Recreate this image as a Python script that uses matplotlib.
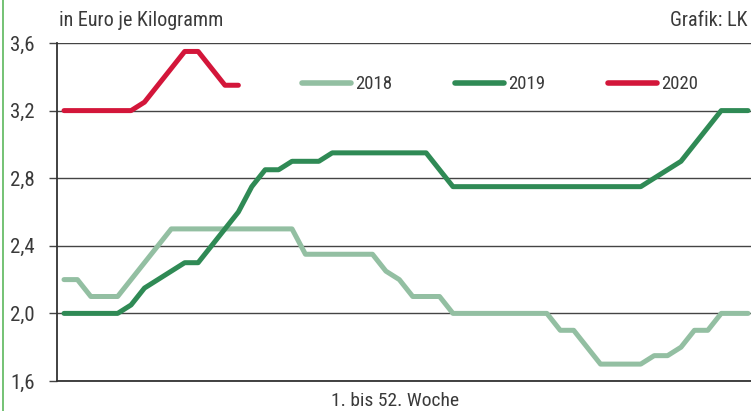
import numpy as np
import matplotlib
matplotlib.use("Agg")
from matplotlib import pyplot as plt
from matplotlib.lines import Line2D

plt.rcParams['font.family'] = ['Roboto Condensed', 'Liberation Sans Narrow', 'Roboto', 'DejaVu Sans']

# weekly prices in Euro per kg
weeks = np.arange(1, 53)
p2018 = [2.2, 2.2, 2.1, 2.1, 2.1, 2.2, 2.3, 2.4, 2.5, 2.5,
         2.5, 2.5, 2.5, 2.5, 2.5, 2.5, 2.5, 2.5, 2.35, 2.35,
         2.35, 2.35, 2.35, 2.35, 2.25, 2.2, 2.1, 2.1, 2.1, 2.0,
         2.0, 2.0, 2.0, 2.0, 2.0, 2.0, 2.0, 1.9, 1.9, 1.8,
         1.7, 1.7, 1.7, 1.7, 1.75, 1.75, 1.8, 1.9, 1.9, 2.0,
         2.0, 2.0]
p2019 = [2.0, 2.0, 2.0, 2.0, 2.0, 2.05, 2.15, 2.2, 2.25, 2.3,
         2.3, 2.4, 2.5, 2.6, 2.75, 2.85, 2.85, 2.9, 2.9, 2.9,
         2.95, 2.95, 2.95, 2.95, 2.95, 2.95, 2.95, 2.95, 2.85, 2.75,
         2.75, 2.75, 2.75, 2.75, 2.75, 2.75, 2.75, 2.75, 2.75, 2.75,
         2.75, 2.75, 2.75, 2.75, 2.8, 2.85, 2.9, 3.0, 3.1, 3.2,
         3.2, 3.2]
p2020 = [3.2, 3.2, 3.2, 3.2, 3.2, 3.2, 3.25, 3.35, 3.45, 3.55,
         3.55, 3.45, 3.35, 3.35]

yticks = [1.6, 2.0, 2.4, 2.8, 3.2, 3.6]
ylabels = ['1,6', '2,0', '2,4', '2,8', '3,2', '3,6']
years = ['2018', '2019', '2020']

c18 = '#93bfa2'
c19 = '#2f8a55'
c20 = '#d3163a'
txt = '#3a3a3a'

fig = plt.figure(figsize=(7.51, 4.11), dpi=100)
ax = fig.add_axes([57/751, 1-381/411, 1-57/751, (381-43)/411])

lw = 3.6
ax.plot(weeks, p2018, color=c18, lw=lw, solid_joinstyle='round', solid_capstyle='round', zorder=3)
ax.plot(weeks, p2019, color=c19, lw=lw, solid_joinstyle='round', solid_capstyle='round', zorder=4)
ax.plot(weeks[:len(p2020)], p2020, color=c20, lw=lw, solid_joinstyle='round', solid_capstyle='round', zorder=5)

ax.set_xlim(0.478, 52.22)
ax.set_ylim(1.6, 3.6)
ax.set_yticks(yticks)
ax.set_yticklabels(ylabels, fontsize=15, color=txt)
ax.set_xticks([])
ax.tick_params(axis='y', length=6, width=1, color='#444444', pad=10)
ax.grid(axis='y', color='#444444', lw=1)
for s in ['top', 'right']:
    ax.spines[s].set_visible(False)
for s in ['left', 'bottom']:
    ax.spines[s].set_color('#333333')
    ax.spines[s].set_linewidth(1.3)

# legend: one entry each, placed like the original
for yr, col, x0 in zip(years, (c18, c19, c20), (0.353, 0.5735, 0.794)):
    h = Line2D([], [], color=col, lw=4, solid_capstyle='round')
    leg = ax.legend([h], [yr], loc='center left', bbox_to_anchor=(x0, 0.878),
                    frameon=False, fontsize=13.5, handlelength=2.6, handletextpad=0.25,
                    borderpad=0, borderaxespad=0)
    leg.get_texts()[0].set_color(txt)
    ax.add_artist(leg)
    ax.legend_ = None

fig.text(59/751, 1-20/411, 'in Euro je Kilogramm', fontsize=14.5, color=txt, va='center', ha='left')
fig.text(748/751, 1-20/411, 'Grafik: LK', fontsize=14.5, color=txt, va='center', ha='right')
fig.text(395/751, 1-401/411, '1. bis 52. Woche', fontsize=14, color=txt, va='center', ha='center')

# green frame line on the left
fig.add_artist(Line2D([3/751, 3/751], [0, 1], transform=fig.transFigure, color='#5cb85c', lw=1.2))

fig.savefig('out.png', dpi=100)
